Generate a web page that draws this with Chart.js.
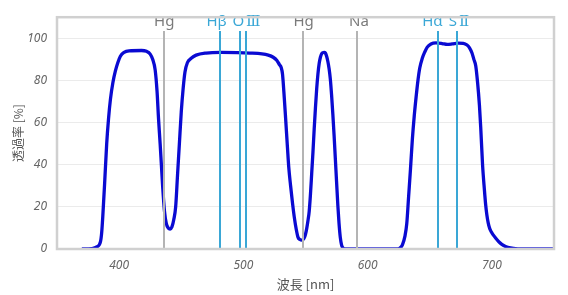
<!DOCTYPE html>
<html>
<head>
<meta charset="utf-8">
<script src="https://cdn.jsdelivr.net/npm/chart.js@4/dist/chart.umd.min.js"></script>
<style>
html,body{margin:0;padding:0;background:#fff;}
canvas{display:block;}
</style>
</head>
<body>
<canvas id="c" width="568" height="295"></canvas>
<script>
// Transmission curve (wavelength nm, transmittance %)
const wavelengths = [370,378,382,385,386,387,388.5,390,391.5,393,395,397,399,401,404,408,418,422,425,427,429,430.5,431.7,433,434,435,436.5,438,439.5,441,442.5,444,445.5,447,448.5,450,451.5,453,455,458,462,470,482,495,505,515,520,524,527,529,530.5,531.5,533,534,535.5,536.5,538,539.5,541,542.5,544,545.5,547,548,549,550,551,552,553,554,555,556,557,558,559,560,561,562,563,564,565,566,567,568,569,570,571,572,573,574,575,576,577,578,579,580,581,582,585,600,624,626,628,630,631.5,633,634.5,636,637.5,639,640.5,642,644,646,648,651,655,660,664,668,673,677,680,682,684,685.5,687,688.5,690,691,692.5,694,695,696,697,698,699,700,702,704,706,708,711,715,721,728,751];
const transmittance = [0,0.2,1,3.5,8,17,33,50,62,71,79,84.5,88.5,91.5,93.3,94,94.2,93.8,92.5,90,85,75,62,50,40,30,18,12,10,9.5,10.5,14,20,35,50,65,76,84,88.5,90.5,92,93,93.3,93.2,93,92.6,92,91,89.5,87.5,86,83,71,62,48,39,30,22,15,9.5,5.5,4.5,4.2,4.5,5.3,7,9.8,13.5,18,26,36,46,57,67,76,83,88,91,92.7,93.2,93.3,93,91.5,89,85.5,80.5,73,64,54,43,32,21,12,5.5,2,0.6,0.1,0,0,0,0,0.5,2,6,12,25,38,52,63,72,80,86,90.5,93.5,95.8,97.3,97.8,97.5,97.1,97.3,97.7,97.6,96.8,95.5,93,90,87,79,68,58,40,28,21,16,12.5,10.2,8.7,7.7,6,4.5,3.2,2.2,1.2,0.5,0.1,0,0];

// Spectral reference lines (as placed in the original chart)
const refLines = [436.0, 481.2, 497.0, 502.2, 547.6, 591.2, 656.4, 671.7];
const refKinds = ['gray','blue','blue','blue','gray','gray','blue','blue'];
const labelTexts = ['Hg','Hβ','O','Hg','Na','Hα','S'];
const labelNumerals = ['','','Ⅲ','','','','Ⅱ'];
const labelAt = [436.3, 478.5, 502.5, 548.5, 593, 652.2, 673.5];
const labelKinds = ['gray','blue','blue','gray','gray','blue','blue'];

const xTickValues = [400, 500, 600, 700];
const yTickValues = [0, 20, 40, 60, 80, 100];

const kindColor = {gray:'#b4b4b4', blue:'#3aa7d6'};
const labelColor = {gray:'#7a7a7a', blue:'#3aa7d6'};

const points = wavelengths.map((w,i)=>({x:w, y:transmittance[i]}));

const sansFont = '15px "Noto Sans", sans-serif';
const numeralFont = '15px "DejaVu Serif", serif';

const refPlugin = {
  id:'refLines',
  afterDatasetsDraw(chart){
    const {ctx, chartArea:a, scales:{x}} = chart;
    ctx.save();
    refLines.forEach((w,i)=>{
      const px = Math.round(x.getPixelForValue(w));
      ctx.strokeStyle = kindColor[refKinds[i]];
      ctx.lineWidth = 2;
      ctx.beginPath();
      ctx.moveTo(px, a.bottom);
      ctx.lineTo(px, 31);
      ctx.stroke();
    });
    ctx.textAlign = 'left';
    ctx.textBaseline = 'alphabetic';
    labelTexts.forEach((t,i)=>{
      const num = labelNumerals[i];
      ctx.font = sansFont;
      const w1 = ctx.measureText(t).width;
      ctx.font = numeralFont;
      const gap = num ? 2 : 0;
      const w2 = num ? ctx.measureText(num).width : 0;
      const start = x.getPixelForValue(labelAt[i]) - (w1 + gap + w2) / 2;
      ctx.fillStyle = labelColor[labelKinds[i]];
      ctx.font = sansFont;
      ctx.fillText(t, start, 26);
      if (num) {
        ctx.font = numeralFont;
        ctx.fillText(num, start + w1 + gap, 26);
      }
    });
    ctx.strokeStyle = '#d0d0d0';
    ctx.lineWidth = 2.5;
    ctx.strokeRect(a.left, a.top, a.right - a.left, a.bottom - a.top);
    ctx.restore();
  }
};

new Chart(document.getElementById('c'), {
  type:'line',
  data:{datasets:[{
    data: points,
    borderColor:'#0a0ad2',
    borderWidth:3.3,
    pointRadius:0,
    fill:false,
    cubicInterpolationMode:'monotone'
  }]},
  options:{
    responsive:false,
    animation:false,
    devicePixelRatio:1,
    layout:{padding:{top:9, right:14, left:0, bottom:0}},
    plugins:{legend:{display:false}, tooltip:{enabled:false}},
    scales:{
      x:{
        type:'linear', min:350, max:750,
        afterBuildTicks(s){ s.ticks = xTickValues.map(v=>({value:v})); },
        afterFit(s){ s.height = 46; },
        grid:{display:false, drawTicks:false},
        border:{display:true, color:'#c8c8c8', width:2},
        ticks:{padding:9, color:'#666', font:{family:'"Noto Sans", sans-serif', size:12, style:'italic'}},
        title:{display:true, text:'波長 [nm]', color:'#555', padding:{top:0,bottom:3}, font:{family:'"Noto Sans CJK JP", sans-serif', size:13}}
      },
      y:{
        min:0, max:110,
        afterBuildTicks(s){ s.ticks = yTickValues.map(v=>({value:v})); },
        afterFit(s){ s.width = 57; },
        grid:{color:'#ebebeb', lineWidth:1, drawTicks:false},
        border:{display:true, color:'#c8c8c8', width:2},
        ticks:{padding:10, color:'#666', font:{family:'"Noto Sans", sans-serif', size:12, style:'italic'}},
        title:{display:true, text:'透過率 [%]', color:'#555', padding:{top:11,bottom:0}, font:{family:'"Noto Sans CJK JP", sans-serif', size:12}}
      }
    }
  },
  plugins:[refPlugin]
});
</script>
</body>
</html>
